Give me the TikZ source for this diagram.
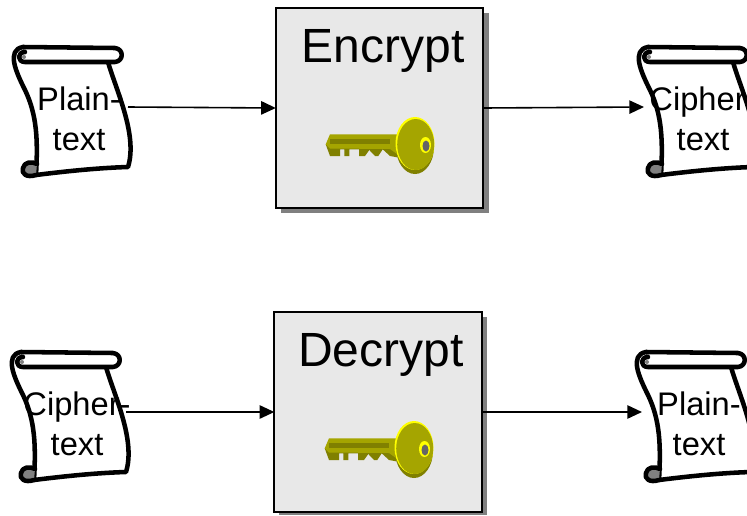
\documentclass[tikz,border=0pt]{standalone}
\usepackage{fontspec}
\setmainfont{Liberation Sans}
\usetikzlibrary{arrows.meta}

\tikzset{
    boxnode/.style={draw=black, line width=1.5pt, fill=boxgray, minimum width=155.5pt, minimum height=150pt, inner sep=0pt, outer sep=0pt},
    boxtext/.style={anchor=north, font=\fontsize{36}{40}\selectfont, inner sep=0pt},
    scrolltext/.style={align=center, font=\fontsize{24.5}{30}\selectfont, inner sep=0pt},
    scrollline/.style={draw=black, line width=3.4pt, line join=round, line cap=round},
    flow/.style={-{Triangle[length=11pt,width=10pt]}, line width=1.2pt},
    scroll/.pic={
        % sheet
        \draw[scrollline, fill=white] (108,62) .. controls (116,90) and (138,135) .. (128,167)
            .. controls (95,168) and (60,172) .. (36,175)
            .. controls (38,140) and (37,115) .. (25,90)
            .. controls (16,72) and (6,50) .. (23,47) -- cycle;
        % upper roll
        \draw[scrollline, fill=white] (23,47) -- (115,48) .. controls (124,49) and (124,61) .. (115,62)
            -- (25,62) .. controls (17,62) and (17,52) .. (25,52);
        \fill[rollgray] (24,57) circle (2);
        % lower roll
        \draw[scrollline, fill=rollgray] (36,175) .. controls (27,178) and (21,174) .. (23,168)
            .. controls (24,162) and (32,161) .. (37,164);
        \coordinate (-east) at (128,107);
        \coordinate (-west) at (19,107);
    },
    key/.pic={
        % teeth
        \fill[keydark] (-89.3,-.7) -- (-85,11) -- (-75,11) -- (-75,4.3) -- (-70.7,4.3) -- (-70.7,11) -- (-65.7,11)
            -- (-65.7,4.3) -- (-56,4.3) -- (-56,11) -- (-50,11) -- (-45.7,5) -- (-40,11) -- (-36.7,11)
            -- (-32.3,4.3) -- (-25,11) -- (-18,12.3) -- (-18,-2) -- cycle;
        % shaft
        \fill[keymain] (-89.3,-.7) -- (-85,-10.7) -- (-18,-10.7) -- (-18,9) -- (-25,4) -- (-85,3.5) -- cycle;
        \fill[keydark] (-85,-5.7) rectangle (-25,-1);
        % head
        \fill[keydark] (0,2) ellipse [x radius=19, y radius=27];
        \fill[keybright] (0,-1.5) ellipse [x radius=19.5, y radius=26.5];
        \fill[keymain] (.7,-.5) ellipse [x radius=18.5, y radius=25.5];
        \fill[keybright] (10.5,0) ellipse [x radius=5.5, y radius=8];
        \fill[holegray] (11,1) ellipse [x radius=3.5, y radius=5.5];
    }
}
\definecolor{boxgray}{HTML}{E8E8E8}
\definecolor{shadowgray}{HTML}{808080}
\definecolor{rollgray}{HTML}{808080}
\definecolor{keymain}{HTML}{A5A500}
\definecolor{keydark}{HTML}{808000}
\definecolor{keybright}{HTML}{FFFF00}
\definecolor{holegray}{HTML}{666666}

\begin{document}
\begin{tikzpicture}[x=0.75pt, y=-0.75pt]
    \useasboundingbox (0,0) rectangle (747,515);

    % Draw the shadows
    \fill[shadowgray] (281,13) rectangle (489,213);
    \fill[shadowgray] (279,317) rectangle (487,515);

    % Draw the boxes
    \node[boxnode] (encrypt) at (379.5,108) {};
    \node[boxnode] (decrypt) at (378,412) {};
    \node[boxtext] (encrypttext) at (383,29) {Encrypt};
    \node[boxtext] (decrypttext) at (381,333) {Decrypt};
    \pic at (415,145) {key};
    \pic at (414,449) {key};

    % Draw the scrolls
    \pic (plainin) at (0,0) {scroll};
    \pic (cipherout) at (625,0) {scroll};
    \pic (cipherin) at (-2,305) {scroll};
    \pic (plainout) at (623,305) {scroll};

    % Draw the scroll texts
    \node[scrolltext] (plainintext) at (79,119) {Plain-\\text};
    \node[scrolltext] (cipherouttext) at (703,119) {Cipher-\\text};
    \node[scrolltext] (cipherintext) at (77,424) {Cipher-\\text};
    \node[scrolltext] (plainouttext) at (699,424) {Plain-\\text};

    % Draw the arrows
    \draw[flow] (plainin-east) -- (encrypt.west);
    \draw[flow] (encrypt.east) -- (cipherout-west);
    \draw[flow] (cipherin-east) -- (decrypt.west);
    \draw[flow] (decrypt.east) -- (plainout-west);
\end{tikzpicture}
\end{document}
